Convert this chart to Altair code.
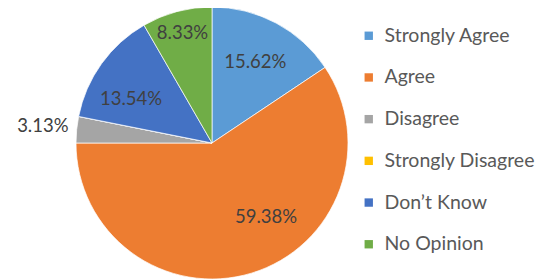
import altair as alt
import pandas as pd

categories = ["Strongly Agree", "Agree", "Disagree", "Strongly Disagree", "Don\u2019t Know", "No Opinion"]
values = [15.62, 59.38, 3.13, 0.0, 13.54, 8.33]
colors = ["#5B9BD5", "#ED7D31", "#A5A5A5", "#FFC000", "#4472C4", "#70AD47"]
labels = ["15.62%", "59.38%", "3.13%", "", "13.54%", "8.33%"]

df = pd.DataFrame({"cat": categories, "val": values, "lab": labels, "idx": list(range(len(categories)))})

font = "Lato"
theta_scale = alt.Scale(domain=[0, 100], range=[0, 6.283185307179586])

base = alt.Chart(df).transform_window(
    cum="sum(val)", sort=[alt.SortField("idx", order="ascending")], frame=[None, 0]
).transform_calculate(
    start="datum.cum - datum.val",
    mid="datum.cum - datum.val / 2",
)

pie = base.mark_arc(outerRadius=136, stroke="white", strokeWidth=0.7).encode(
    theta=alt.Theta("start:Q", scale=theta_scale, stack=None),
    theta2="cum:Q",
    color=alt.Color(
        "cat:N",
        scale=alt.Scale(domain=categories, range=colors),
        sort=categories,
        legend=alt.Legend(
            title=None,
            orient="none",
            legendX=351,
            legendY=19,
            symbolType="square",
            symbolSize=70,
            symbolStrokeWidth=0,
            labelFontSize=19.5,
            labelFont=font,
            labelColor="#595959",
            rowPadding=20.7,
            labelOffset=6,
        ),
    ),
)

txt = base.transform_calculate(
    r="datum.cat == 'Disagree' ? 170 : (datum.cat == 'No Opinion' ? 114 : 92)",
    la="datum.cat == 'Agree' ? datum.mid - 5.3 : (datum.cat == 'Don\u2019t Know' ? datum.mid - 2 : datum.mid)",
).mark_text(font=font, fontSize=18.5, color="#404040").encode(
    theta=alt.Theta("la:Q", scale=theta_scale, stack=None),
    text="lab:N",
    radius=alt.Radius("r:Q", scale=None),
)

chart = alt.layer(pie, txt).properties(
    width=408, height=272, padding={"left": 0, "top": -3, "right": 0, "bottom": 0}
).configure_view(stroke=None)

chart.save("out.html", embed_options={"renderer": "svg", "actions": False})
